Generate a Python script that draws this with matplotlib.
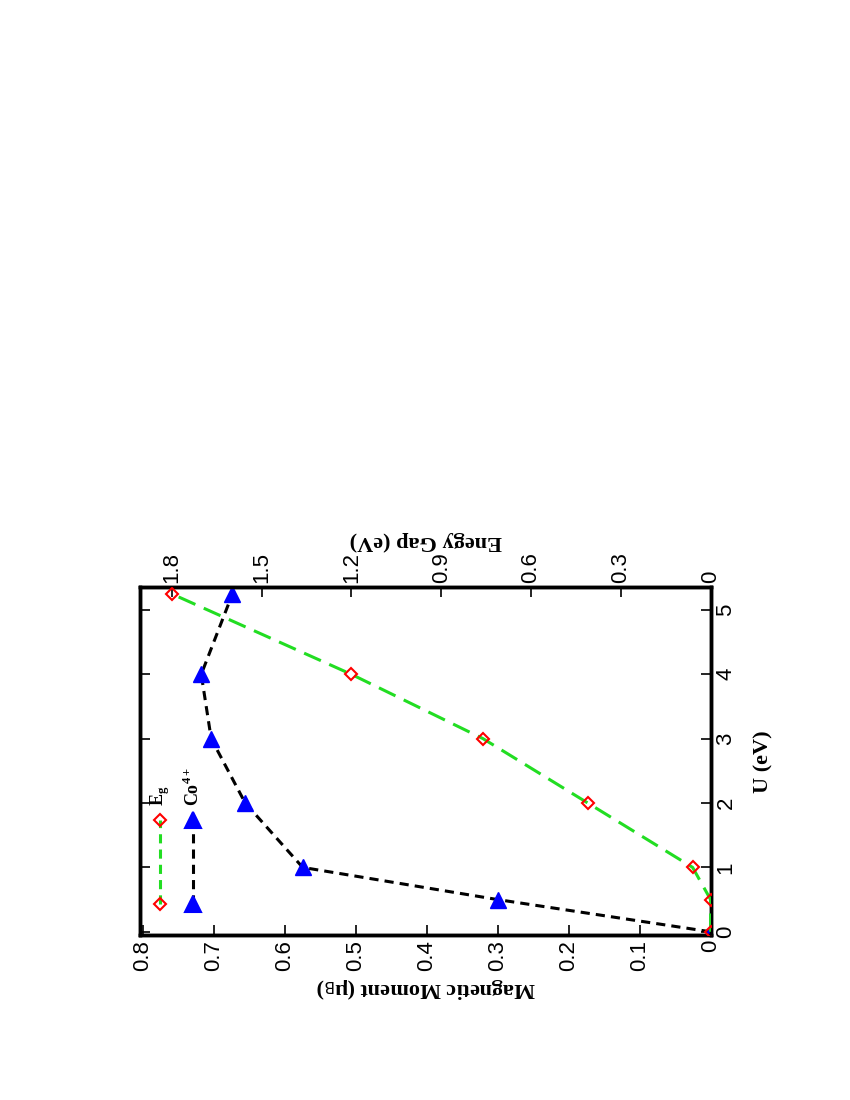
import matplotlib
matplotlib.use("Agg")
import matplotlib.pyplot as plt

U = [0, 0.5, 1, 2, 3, 4, 5.25]
moment_co4 = [0.0, 0.30, 0.575, 0.656, 0.704, 0.718, 0.674]
gap_eg = [0.0, 0.0, 0.06, 0.41, 0.76, 1.20, 1.80]
mm_ticks = [0, 0.1, 0.2, 0.3, 0.4, 0.5, 0.6, 0.7, 0.8]
gap_ticks = [0, 0.3, 0.6, 0.9, 1.2, 1.5, 1.8]
u_ticks = [0, 1, 2, 3, 4, 5]

plt.rcParams['font.family'] = 'Liberation Sans'
fig = plt.figure(figsize=(8.5, 11), dpi=100)
ax = fig.add_axes([0.165, 0.15, 0.671, 0.316])
ax2 = ax.twiny()

ax.plot(moment_co4, U, ls=(0, (3, 2)), color='black', lw=2.2, marker='^', ms=11,
        mfc='blue', mec='blue', zorder=3)
ax2.plot(gap_eg, U, ls=(0, (6, 3)), color='#22dd22', lw=2.2, marker='D', ms=6,
         mfc='none', mec='red', mew=1.5, zorder=3)

ax.set_xlim(0.804, 0)
ax2.set_xlim(1.905, 0)
ax.set_ylim(-0.05, 5.35)

ax.set_xticks(mm_ticks)
ax.set_xticklabels(['0' if t == 0 else f'{t:g}' for t in mm_ticks], rotation=90, fontsize=16)
ax2.set_xticks(gap_ticks)
ax2.set_xticklabels(['0' if t == 0 else f'{t:g}' for t in gap_ticks], rotation=90, fontsize=16)
ax.yaxis.tick_right()
ax.set_yticks(u_ticks)
ax.set_yticklabels([str(t) for t in u_ticks], rotation=90, fontsize=16, va='center')
ax.tick_params(axis='both', direction='in', length=7, width=1.2, right=True, left=True)
ax2.tick_params(axis='x', direction='in', length=7, width=1.2)
for a in (ax, ax2):
    for s in a.spines.values():
        s.set_linewidth(2.5)

ax.set_xlabel('Magnetic Moment (μ$_\\mathrm{B}$)', rotation=180, fontsize=16,
              fontweight='bold', family='Liberation Serif')
ax2.set_xlabel('Enegy Gap (eV)', rotation=180, fontsize=16, fontweight='bold',
               family='Liberation Serif')
ax.yaxis.set_label_position('right')
ax.set_ylabel('U (eV)', rotation=90, fontsize=16, fontweight='bold',
              family='Liberation Serif', labelpad=12)

# manual rotated legend
tr = ax.transAxes
for xpos, col, mk, ms, mfc, mec, label in [
        (0.035, '#22dd22', 'D', 6, 'none', 'red', 'E$_\\mathregular{g}$'),
        (0.093, 'black', '^', 11, 'blue', 'blue', 'Co$^\\mathregular{4+}$')]:
    ax.plot([xpos, xpos], [0.09, 0.33], transform=tr, color=col, lw=2.2, ls=(0, (3, 2)))
    ax.plot([xpos, xpos], [0.09, 0.33], transform=tr, ls='none', marker=mk, ms=ms,
            mfc=mfc, mec=mec, mew=1.5)
    ax.text(xpos, 0.37, label, transform=tr, rotation=90, fontsize=13,
            fontweight='bold', family='Liberation Serif', ha='center', va='bottom')

fig.savefig('out.png', dpi=100)
